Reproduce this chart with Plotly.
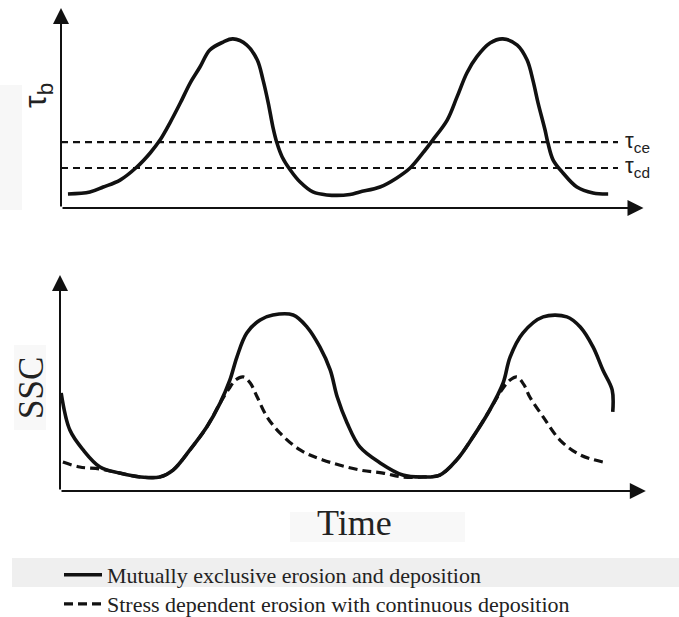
import plotly.graph_objects as go

W, H = 679, 617

# ---------------- data ----------------
# Top panel: bed shear stress tau_b over time
tau_time = [1.2, 5.0, 7.3, 10.2, 13.1, 15.4, 17.1, 18.8, 20.6, 22.3, 24.0, 25.7, 28.0, 29.7,
            32.1, 33.9, 34.9, 35.8, 36.6, 37.3, 38.2, 39.6, 41.3, 43.5, 45.9, 49.9,
            51.6, 55.1, 58.0, 60.3, 62.5, 64.2, 66.7, 68.4, 70.1, 71.8, 74.1, 76.3,
            78.8, 80.5, 81.5, 82.4, 83.6, 84.1, 85.0, 86.7, 89.1, 91.9, 94.5]
tau_vals = [7.1, 8.1, 10.6, 14.1, 20.7, 27.8, 34.3, 42.9, 53.0, 63.1, 71.2, 79.8, 83.8, 85.4,
            82.3, 74.7, 64.6, 53.0, 40.9, 32.8, 25.8, 19.2, 13.1, 8.1, 6.6, 6.8,
            8.1, 10.6, 15.2, 20.2, 27.8, 34.3, 44.4, 56.1, 68.2, 76.3, 83.3, 85.4,
            82.3, 74.7, 64.6, 53.0, 39.4, 32.8, 24.2, 17.7, 10.6, 7.6, 7.1]
tau_ce = 33.3
tau_cd = 20.2
threshold_span = [0.0, 96.2]

# Bottom panel: SSC, mutually exclusive erosion and deposition
ssc_me_time = [0.2, 1.7, 4.0, 6.9, 10.3, 13.8, 17.2, 19.5, 22.4, 25.3, 27.6, 29.3, 30.5, 32.2,
               34.5, 36.7, 40.2, 42.6, 44.8, 46.6, 47.8, 49.5, 51.7, 55.2, 59.1, 62.6, 65.5,
               68.4, 71.2, 74.1, 76.4, 77.6, 79.8, 83.3, 87.4, 89.7, 91.9, 93.6, 95.2, 95.3]
ssc_me_vals = [45.4, 28.2, 19.0, 11.1, 8.3, 6.5, 6.5, 9.7, 19.0, 29.6, 40.7, 51.4, 62.0, 73.1,
               79.2, 81.5, 81.5, 75.9, 66.7, 56.0, 43.5, 31.5, 20.4, 13.0, 7.4, 6.5, 7.4,
               14.4, 25.0, 37.5, 50.0, 62.0, 73.1, 80.6, 80.6, 75.9, 66.7, 56.0, 46.8, 36.6]

# Bottom panel: SSC, stress dependent erosion with continuous deposition
ssc_cd_time = [0.5, 3.4, 6.9, 10.3, 13.8, 17.2, 19.5, 22.4, 25.3, 27.6, 29.0, 30.3, 31.6, 32.8,
               34.0, 35.7, 37.9, 41.4, 45.3, 51.7, 55.7, 59.1, 62.6, 65.5, 68.4, 71.2, 74.1,
               76.4, 77.6, 78.8, 80.0, 81.0, 83.3, 86.2, 89.7, 94.3]
ssc_cd_vals = [13.4, 11.1, 10.2, 8.3, 6.5, 6.5, 9.7, 19.0, 29.6, 40.7, 46.8, 51.4, 52.8, 50.0,
               43.5, 34.3, 26.9, 19.0, 14.4, 9.7, 8.3, 6.5, 6.5, 7.4, 14.4, 25.0, 37.5,
               47.7, 51.4, 52.8, 49.1, 43.5, 34.3, 23.6, 16.7, 13.0]

legend_names = ["Mutually exclusive erosion and deposition",
                "Stress dependent erosion with continuous deposition"]

# ---------------- figure ----------------
def px_x(p):
    return p / W

def px_y(p):
    return 1 - p / H

fig = go.Figure()

SERIF = "Liberation Serif, Times New Roman, serif"
SANS = "Liberation Sans, Arial, sans-serif"
INK = "#111111"
TXT = "#222222"

fig.add_trace(go.Scatter(x=tau_time, y=tau_vals, mode="lines",
                         line=dict(color=INK, width=3.6, shape="spline", smoothing=1.0),
                         xaxis="x", yaxis="y", showlegend=False, hoverinfo="skip"))
for lvl in (tau_ce, tau_cd):
    fig.add_trace(go.Scatter(x=threshold_span, y=[lvl, lvl], mode="lines",
                             line=dict(color=INK, width=2.2, dash="7px,5px"),
                             xaxis="x", yaxis="y", showlegend=False, hoverinfo="skip"))

fig.add_trace(go.Scatter(x=ssc_me_time, y=ssc_me_vals, mode="lines", name=legend_names[0],
                         line=dict(color=INK, width=3.6, shape="spline", smoothing=1.0),
                         xaxis="x2", yaxis="y2", legend="legend", hoverinfo="skip"))
fig.add_trace(go.Scatter(x=ssc_cd_time, y=ssc_cd_vals, mode="lines", name=legend_names[1],
                         line=dict(color=INK, width=3.2, dash="9px,5px",
                                   shape="spline", smoothing=1.0),
                         xaxis="x2", yaxis="y2", legend="legend2", hoverinfo="skip"))

ax_common = dict(visible=False, fixedrange=True)
leg_common = dict(xanchor="left", yanchor="middle", bgcolor="rgba(0,0,0,0)",
                  font=dict(family=SERIF, size=22, color=TXT), itemwidth=38,
                  borderwidth=0)
fig.update_layout(
    width=W, height=H,
    margin=dict(l=0, r=0, t=0, b=0, autoexpand=False),
    paper_bgcolor="white", plot_bgcolor="rgba(0,0,0,0)",
    xaxis=dict(domain=[px_x(61), px_x(640)], range=[0, 100], anchor="y", **ax_common),
    yaxis=dict(domain=[px_y(208), px_y(10)], range=[0, 100], anchor="x", **ax_common),
    xaxis2=dict(domain=[px_x(60), px_x(640)], range=[0, 100], anchor="y2", **ax_common),
    yaxis2=dict(domain=[px_y(491), px_y(275)], range=[0, 100], anchor="x2", **ax_common),
    legend=dict(x=px_x(59), y=px_y(575), **leg_common),
    legend2=dict(x=px_x(59), y=px_y(604), **leg_common),
)

# faint background smudges and legend band
shapes = [
    dict(type="rect", xref="paper", yref="paper", x0=px_x(12), x1=1, y0=px_y(587), y1=px_y(558),
         fillcolor="#efefef", line=dict(width=0), layer="below"),
    dict(type="rect", xref="paper", yref="paper", x0=0, x1=px_x(22), y0=px_y(210), y1=px_y(85),
         fillcolor="#f7f7f7", line=dict(width=0), layer="below"),
    dict(type="rect", xref="paper", yref="paper", x0=px_x(14), x1=px_x(46), y0=px_y(430), y1=px_y(345),
         fillcolor="#f8f8f8", line=dict(width=0), layer="below"),
    dict(type="rect", xref="paper", yref="paper", x0=px_x(290), x1=px_x(465), y0=px_y(542), y1=px_y(512),
         fillcolor="#f8f8f8", line=dict(width=0), layer="below"),
]
fig.update_layout(shapes=shapes)

arrow = dict(showarrow=True, arrowhead=2, arrowsize=1.6, arrowwidth=2, arrowcolor=INK,
             text="", standoff=0)
ann = [
    # top axes
    dict(x=0, y=101, ax=0, ay=0, xref="x", yref="y", axref="x", ayref="y", **arrow),
    dict(x=100.6, y=0, ax=0, ay=0, xref="x", yref="y", axref="x", ayref="y", **arrow),
    # bottom axes
    dict(x=0, y=100, ax=0, ay=0, xref="x2", yref="y2", axref="x2", ayref="y2", **arrow),
    dict(x=101.0, y=0, ax=0, ay=0, xref="x2", yref="y2", axref="x2", ayref="y2", **arrow),
]
lab = dict(xref="paper", yref="paper", showarrow=False, xanchor="center", yanchor="middle")
ann += [
    dict(x=px_x(38), y=px_y(96), text="τ<sub>b</sub>", textangle=-90,
         font=dict(family=SANS, size=32, color=TXT), **lab),
    dict(x=px_x(637), y=px_y(142), text="τ<sub>ce</sub>",
         font=dict(family=SANS, size=22, color=TXT), **lab),
    dict(x=px_x(637), y=px_y(167), text="τ<sub>cd</sub>",
         font=dict(family=SANS, size=22, color=TXT), **lab),
    dict(x=px_x(31), y=px_y(388), text="SSC", textangle=-90,
         font=dict(family=SERIF, size=35, color=TXT), **lab),
    dict(x=px_x(354), y=px_y(523), text="Time",
         font=dict(family=SERIF, size=36, color=TXT), **lab),
]
fig.update_layout(annotations=ann)

fig.write_html("out.html")
